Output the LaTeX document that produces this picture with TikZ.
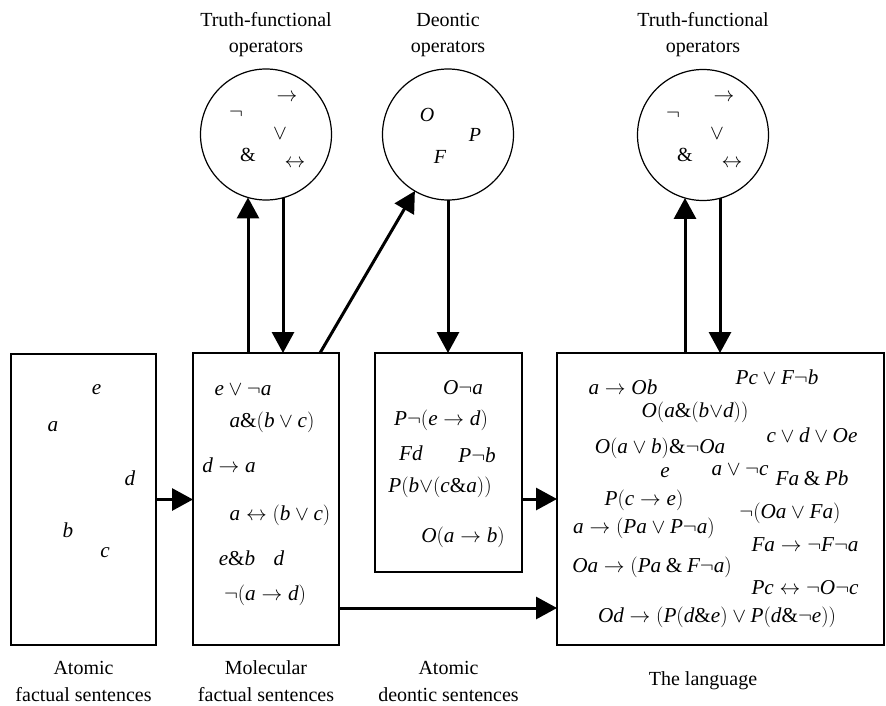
\documentclass[tikz,border=0pt]{standalone}
\usepackage{fontspec}
\setmainfont{Liberation Serif}
\newfontfamily\lsfam{Liberation Serif}[NFSSFamily=lsmath]
% Times-like italic letters and upright operators in formulas
\DeclareSymbolFont{letters}{TU}{lsmath}{m}{it}
\DeclareSymbolFont{operators}{TU}{lsmath}{m}{n}
\usetikzlibrary{arrows.meta}

\tikzset{
  sentbox/.style={draw, line width=1.2pt, inner sep=0pt},
  opcircle/.style={draw, circle, line width=1.2pt, minimum size=131pt, inner sep=0pt},
  conn/.style={line width=3pt, -{Triangle[length=21pt,width=22pt]}},
  lbl/.style={anchor=base},
  fml/.style={font=\fontsize{21.2}{26}\selectfont},
}

\begin{document}
\begin{tikzpicture}[x=1pt, y=-1pt,
  every node/.style={inner sep=0pt, outer sep=0pt},
  font=\fontsize{20}{27}\selectfont]
\useasboundingbox (0,0) rectangle (886,706);

% --- boxes of sentences ---
\node[sentbox, minimum width=145pt, minimum height=291pt] (atfact) at (83.5,499.5) {};
\node[sentbox, minimum width=146pt, minimum height=292pt] (molec)  at (266,499) {};
\node[sentbox, minimum width=147pt, minimum height=219pt] (atdeon) at (448.5,462.5) {};
\node[sentbox, minimum width=327pt, minimum height=292pt] (lang)   at (720.5,499) {};

% --- operator circles ---
\node[opcircle] (tf1)  at (266,134.5) {};
\node[opcircle] (deon) at (448,134.5) {};
\node[opcircle] (tf2)  at (703,135) {};

% --- titles ---
\node[lbl] (t1a) at (266,26.5) {Truth-functional};
\node[lbl] (t1b) at (266,53) {operators};
\node[lbl] (t2a) at (448,26.5) {Deontic};
\node[lbl] (t2b) at (448,53) {operators};
\node[lbl] (t3a) at (703,26.5) {Truth-functional};
\node[lbl] (t3b) at (703,53) {operators};

\node[lbl] (b1a) at (83.5,674) {Atomic};
\node[lbl] (b1b) at (83.5,701) {factual sentences};
\node[lbl] (b2a) at (266,674) {Molecular};
\node[lbl] (b2b) at (266,701) {factual sentences};
\node[lbl] (b3a) at (448.5,674) {Atomic};
\node[lbl] (b3b) at (448.5,701) {deontic sentences};
\node[lbl] (b4)  at (703,685) {The language};

% --- operators inside the circles ---
\foreach \c in {tf1,tf2} {
  \node (\c-neg) at ([shift={(-30,-20)}]\c.center) {$\neg$};
  \node (\c-to)  at ([shift={(21,-37)}]\c.center) {$\to$};
  \node (\c-or)  at ([shift={(14,-1)}]\c.center) {$\vee$};
  \node (\c-and) at ([shift={(-18,20)}]\c.center) {$\&$};
  \node (\c-iff) at ([shift={(29,29)}]\c.center) {$\leftrightarrow$};
}
\node (opO) at ([shift={(-21,-19.5)}]deon.center) {$O$};
\node (opP) at ([shift={(27,0.5)}]deon.center) {$P$};
\node (opF) at ([shift={(-8,22.5)}]deon.center) {$F$};

% --- atomic factual sentences ---
\begin{scope}[every node/.append style={fml}]
\node (ae) at (96.7,390) {$e$};
\node (aa) at (53,427) {$a$};
\node (ad) at (130,478) {$d$};
\node (ab) at (68,530) {$b$};
\node (ac) at (105,553) {$c$};

% --- molecular factual sentences ---
\node (m1) at (243,390) {$e \vee \neg a$};
\node (m2) at (272,422) {$a\&(b \vee c)$};
\node (m3) at (229,465) {$d \to a$};
\node (m4) at (280,515) {$a \leftrightarrow (b \vee c)$};
\node (m5) at (237,558) {$e\&b$};
\node (m6) at (279,558) {$d$};
\node (m7) at (265,595) {$\neg(a \to d)$};

% --- atomic deontic sentences ---
\node (c1) at (463,388) {$O\neg a$};
\node (c2) at (441,420) {$P\neg(e \to d)$};
\node (c3) at (411,453) {$Fd$};
\node (c4) at (477,455) {$P\neg b$};
\node (c5) at (440,487) {$P(b{\vee}(c\&a))$};
\node (c6) at (463,537) {$O(a \to b)$};

% --- the language ---
\node (d1)  at (623,387) {$a \to Ob$};
\node (d2)  at (777,377) {$Pc \vee F\neg b$};
\node (d3)  at (695,412) {$O(a\&(b{\vee}d))$};
\node (d4)  at (812,435) {$c \vee d \vee Oe$};
\node (d5)  at (660,448) {$O(a \vee b)\&\neg Oa$};
\node (d6)  at (665,473) {$e$};
\node (d7)  at (740,470) {$a \vee \neg c$};
\node (d8)  at (812,478) {$Fa \mathbin{\&} Pb$};
\node (d9)  at (644,500) {$P(c \to e)$};
\node (d10) at (790,513) {$\neg(Oa \vee Fa)$};
\node (d11) at (644,528) {$a \to (Pa \vee P\neg a)$};
\node (d12) at (805,545) {$Fa \to \neg F\neg a$};
\node (d13) at (652,567) {$Oa \to (Pa \mathbin{\&} F\neg a)$};
\node (d14) at (805,588) {$Pc \leftrightarrow \neg O\neg c$};
\node (d15) at (717,617) {$Od \to (P(d\&e) \vee P(d\&\neg e))$};
\end{scope}

% --- connectors ---
\coordinate (u1) at ([xshift=-18pt]molec.north);
\coordinate (w1) at ([xshift=17pt]molec.north);
\coordinate (g1) at ([xshift=54pt]molec.north);
\draw[conn] (u1) -- (u1 |- tf1.-106);
\draw[conn] (w1 |- tf1.-75) -- (w1);
\draw[conn] (g1) -- (deon);
\draw[conn] (deon.south) -- (deon.south |- atdeon.north);

\coordinate (u3) at ([xshift=-18pt]tf2.center);
\coordinate (w3) at ([xshift=17pt]tf2.center);
\draw[conn] (u3 |- lang.north) -- (u3 |- tf2.-106);
\draw[conn] (w3 |- tf2.-75) -- (w3 |- lang.north);

\draw[conn] (atfact.east) -- (atfact.east -| molec.west);
\draw[conn] (atdeon.east |- lang.west) -- (lang.west);
\coordinate (h1) at ([yshift=-109pt]molec.east);
\draw[conn] (h1) -- (h1 -| lang.west);
\end{tikzpicture}
\end{document}
